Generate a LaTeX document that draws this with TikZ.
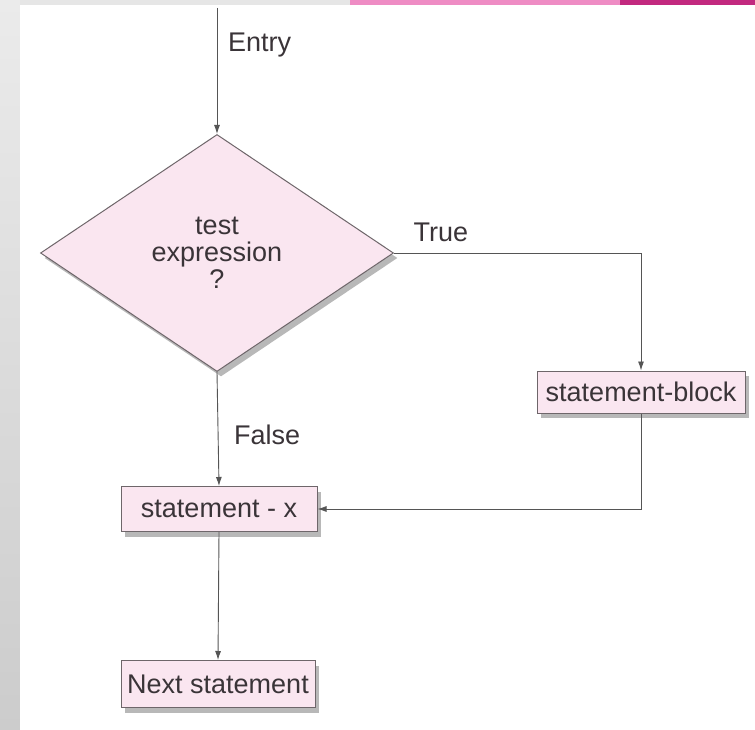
\documentclass[tikz,border=0pt]{standalone}
\usepackage{fontspec}
\setmainfont{Liberation Sans}
\usetikzlibrary{arrows.meta,shapes.geometric,shadows}

\definecolor{boxfill}{HTML}{FAE6F0}
\definecolor{boxedge}{HTML}{6E666A}
\definecolor{wire}{HTML}{555555}
\definecolor{ink}{HTML}{3A3438}
\definecolor{bandgray}{HTML}{E6E6E6}
\definecolor{bandpink}{HTML}{EE8CC4}
\definecolor{bandmagenta}{HTML}{C2297F}

\tikzset{
  textfont/.style={font=\fontsize{27}{30}\selectfont},
  lbl/.style={text=ink, textfont, inner sep=0pt},
  softshadow/.style={drop shadow={shadow xshift=4pt, shadow yshift=-5pt,
      fill=black, opacity=0.28}},
  procbox/.style={rectangle, draw=boxedge, line width=1pt, fill=boxfill,
      text=ink, textfont, inner sep=0pt, softshadow},
  decision/.style={diamond, draw=boxedge, line width=1pt, fill=boxfill,
      text=ink, textfont, align=center,
      inner sep=0pt, minimum width=353pt, minimum height=237pt,
      softshadow},
  flow/.style={draw=wire, line width=0.9pt,
      -{Latex[length=9pt,width=6pt]}},
  plain/.style={draw=wire, line width=0.9pt}
}

\begin{document}
\begin{tikzpicture}[x=1pt, y=-1pt]
  \useasboundingbox (0,0) rectangle (755,730);

  % page backdrop: grey margin strip and coloured header band
  \shade[top color=bandgray!80, bottom color=black!20] (0,0) rectangle (20,730);
  \fill[bandgray] (20,0) rectangle (350,5);
  \fill[bandpink] (350,0) rectangle (620,5);
  \fill[bandmagenta] (620,0) rectangle (755,5);
  \fill[white] (20,5) rectangle (755,730);

  % flowchart nodes
  \coordinate (entry) at (217,8);
  \node[decision] (test) at (217,253) {test\\[-3pt]expression\\[-3pt]?};
  \node[procbox, minimum width=208pt, minimum height=42pt] (block) at (641,392) {statement-block};
  \node[procbox, minimum width=196pt, minimum height=45pt] (sx) at (219,509) {statement - x};
  \node[procbox, minimum width=194pt, minimum height=47pt] (next) at (218,684) {Next statement};
  \coordinate (turn1) at (641,253);
  \coordinate (turn2) at (641,509);

  % labels
  \node[lbl, anchor=west] (entrylbl) at (228,45) {Entry};
  \node[lbl] (truelbl) at (441,232) {True};
  \node[lbl, anchor=west] (falselbl) at (234,435) {False};

  % connectors
  \draw[flow] (entry) -- (test.north);
  \draw[flow] (test.east) -- (turn1) -- (block.north);
  \draw[flow] (test.south) -- (sx.north);
  \draw[flow] (block.south) -- (turn2) -- (sx.east);
  \draw[flow] (sx.south) -- (next.north);
\end{tikzpicture}
\end{document}
